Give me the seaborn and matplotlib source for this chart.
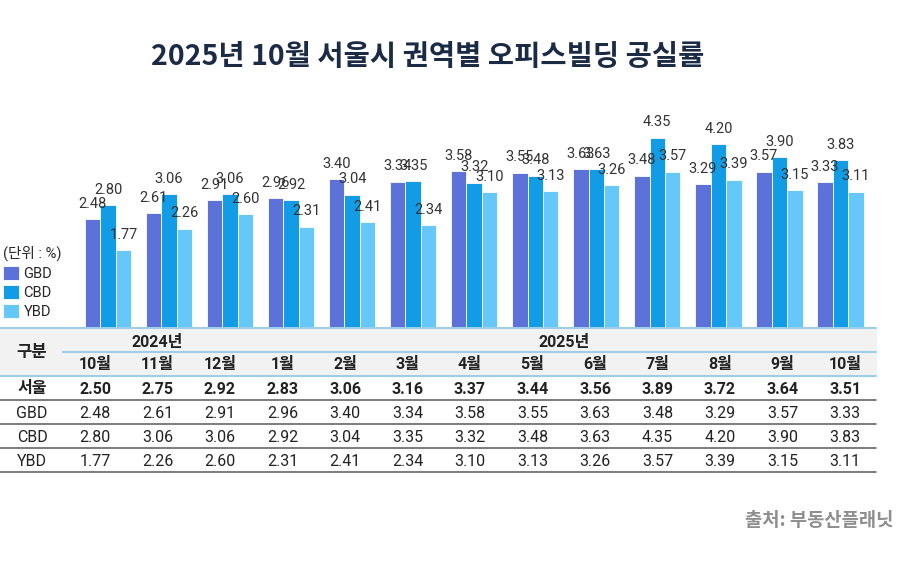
import numpy as np
import pandas as pd
import matplotlib
matplotlib.use("Agg")
import matplotlib.pyplot as plt
from matplotlib.patches import Rectangle
import seaborn as sns

# data
months = ["10월", "11월", "12월", "1월", "2월", "3월", "4월", "5월", "6월", "7월", "8월", "9월", "10월"]
seoul = [2.50, 2.75, 2.92, 2.83, 3.06, 3.16, 3.37, 3.44, 3.56, 3.89, 3.72, 3.64, 3.51]
gbd = [2.48, 2.61, 2.91, 2.96, 3.40, 3.34, 3.58, 3.55, 3.63, 3.48, 3.29, 3.57, 3.33]
cbd = [2.80, 3.06, 3.06, 2.92, 3.04, 3.35, 3.32, 3.48, 3.63, 4.35, 4.20, 3.90, 3.83]
ybd = [1.77, 2.26, 2.60, 2.31, 2.41, 2.34, 3.10, 3.13, 3.26, 3.57, 3.39, 3.15, 3.11]
series_names = ["GBD", "CBD", "YBD"]
colors = ["#5c72d8", "#129ce6", "#66c8f8"]

sns.set_theme(style="white")
plt.rcParams['font.family'] = ['Roboto', 'Noto Sans CJK KR', 'DejaVu Sans']
cjk = ['Noto Sans CJK KR', 'DejaVu Sans']

# long format table for seaborn
period = [f"{i:02d}_{m}" for i, m in enumerate(months)]
df = pd.DataFrame({
    "period": period * 3,
    "series": np.repeat(series_names, len(months)),
    "value": gbd + cbd + ybd,
})

fig = plt.figure(figsize=(9, 5.66), dpi=100)

# table layer in pixel coords
tax = fig.add_axes([0, 0, 1, 1])
tax.set_xlim(0, 900)
tax.set_ylim(566, 0)
tax.axis("off")

# bar axes
ax = fig.add_axes([47 / 900, (566 - 327) / 566, (877 - 47) / 900, 217.5 / 566])
ax.set_facecolor("none")
sns.barplot(data=df, x="period", y="value", hue="series", palette=colors,
            saturation=1, width=0.76, edgecolor="white", linewidth=0.6, ax=ax)
ax.set_xlim(-1, 12.6)
ax.set_ylim(0, 5)
for c in ax.containers:
    ax.bar_label(c, fmt="%.2f", padding=6, fontsize=10.5, color="#333333")
ax.set_xticks([])
ax.set_yticks([])
ax.set_xlabel("")
ax.set_ylabel("")
sns.despine(ax=ax, left=True, bottom=True)

ax.legend(title="(단위 : %)", loc="upper left", bbox_to_anchor=(0.0, 1 - 243 / 566),
          bbox_transform=fig.transFigure, frameon=False, handlelength=1.1,
          handleheight=1.1, handletextpad=0.3, labelspacing=0.3,
          fontsize=10.5, title_fontsize=10.5, alignment="left", borderpad=0.2,
          borderaxespad=0)

# table
light = "#9ccfe6"
dark = "#666666"
txt = "#222222"
tax.add_patch(Rectangle((0, 328), 876, 48, color="#f2f2f2", zorder=0))
tax.plot([0, 876], [328, 328], color=light, lw=1.5)
tax.plot([63, 876], [352, 352], color=light, lw=1.5)
tax.plot([0, 876], [376, 376], color=light, lw=1.5)
for yl in [400, 424, 448, 472]:
    tax.plot([0, 876], [yl, yl], color=dark, lw=1.2)

col_x = 95 + 62.5 * np.arange(len(months))
tax.text(32, 352, "구분", ha="center", va="center", fontsize=12, fontweight="bold", color=txt, family=cjk)
tax.text(col_x[1], 342, "2024년", ha="center", va="center", fontsize=11.5, fontweight="bold", color=txt)
tax.text((col_x[7] + col_x[8]) / 2, 342, "2025년", ha="center", va="center", fontsize=11.5, fontweight="bold", color=txt)
for x, m in zip(col_x, months):
    tax.text(x, 364, m, ha="center", va="center", fontsize=11.5, fontweight="bold", color=txt)

rows = [("서울", seoul, "bold"), ("GBD", gbd, "normal"), ("CBD", cbd, "normal"), ("YBD", ybd, "normal")]
for (name, vals, w), ry in zip(rows, [389, 413, 437, 461]):
    tax.text(32, ry, name, ha="center", va="center", fontsize=11.5, fontweight=w, color=txt)
    for x, v in zip(col_x, vals):
        tax.text(x, ry, f"{v:.2f}", ha="center", va="center", fontsize=11.5, fontweight=w, color=txt)

fig.text(428 / 900, 1 - 57 / 566, "2025년 10월 서울시 권역별 오피스빌딩 공실률",
         ha="center", va="center", fontsize=20.5, fontweight="bold", color="#1b2b45", family=cjk)
fig.text(893 / 900, 1 - 521 / 566, "출처: 부동산플래닛", ha="right", va="center",
         fontsize=13.5, fontweight="bold", color="#8f8f8f", family=cjk)

fig.savefig("out.png", dpi=100)
